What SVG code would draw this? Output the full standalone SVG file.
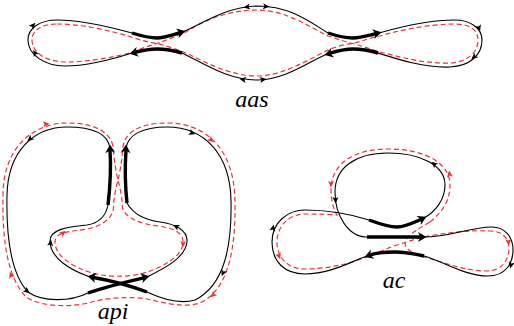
<svg xmlns="http://www.w3.org/2000/svg" xmlns:xlink="http://www.w3.org/1999/xlink" width="514" height="326" viewBox="0 0 514 326">
<style>
.b{fill:none;stroke:#000;stroke-width:1.1}
.t{fill:none;stroke:#000;stroke-width:3.4}
.r{fill:none;stroke:#e8343c;stroke-width:1.2;stroke-dasharray:5 3}
.ab{fill:#000}
.ar{fill:#e8343c}
.lbl{font-family:"Liberation Serif","DejaVu Serif",serif;font-style:italic;font-size:24px;fill:#000;text-anchor:middle}
</style>
<defs>
<path id="sa" d="M3.5,0 L-3,-3 L-1.5,0 L-3,3 Z"/>
<path id="ta" d="M1.5,0 L-7,-5 L-4.5,0 L-7,5 Z"/>
</defs>
<rect width="514" height="326" fill="#fff"/>

<g id="aas">
<path class="r" d="M57,24 C80,24 108,30 128,36 C140,40 148,42 157,43.5 C167,46 176,49 186,53 C205,62 230,76 257,76 C282,76 308,60 328,50 C338,46 345,44 353,43.5 C362,41 370,38 380,36 C400,30 430,24 455,24 C470,24 478,30 478,40 C478,52 468,62 450,63 C425,64 400,57 380,52 C370,49 362,46 353,43.5 C345,42 338,39 328,36 C308,26 285,10 257,10 C228,10 205,20 186,32 C176,36 167,40 157,43.5 C148,46 140,49 130,53 C110,58 85,62 67,62 C45,62 32,52 32,40 C32,30 42,24 57,24 Z"/>
<path class="b" d="M57,20 C80,20 110,27 132,33 C145,37 150,38 157,38 C165,38 172,35 183,32 C200,25 225,7 257,6 C290,6 310,22 328,33 C340,37 346,38 353,38 C361,38 370,35 379,33 C400,27 430,20 455,20 C470,20 482,28 482,40 C482,55 470,66 450,67 C425,68 400,60 378,53 C368,50 360,49 353,49 C345,49 337,51 327,54 C310,61 285,80 257,80 C228,80 205,64 182,53 C172,50 165,49 157,49 C148,49 140,51 132,53 C110,60 85,66 65,66 C45,66 28,55 28,40 C28,28 40,20 57,20 Z"/>
<path class="t" d="M132,33 C145,37 150,38 157,38 C165,38 172,35 181,32.5"/>
<path class="t" d="M182,53 C172,50 165,49 157,49 C148,49 140,51 134,52.5"/>
<path class="t" d="M328,33 C340,37 346,38 353,38 C361,38 370,35 377,33.5"/>
<path class="t" d="M378,53 C368,50 360,49 353,49 C345,49 337,51 329,53.5"/>
<use xlink:href="#ta" class="ab" transform="translate(184,31.5) rotate(-15)"/>
<use xlink:href="#ta" class="ab" transform="translate(131,53.5) rotate(166)"/>
<use xlink:href="#ta" class="ab" transform="translate(380,32.5) rotate(-13)"/>
<use xlink:href="#ta" class="ab" transform="translate(326,54.5) rotate(164)"/>
<use xlink:href="#sa" class="ab" transform="translate(33,25.5) rotate(-50)"/>
<use xlink:href="#sa" class="ab" transform="translate(35,53) rotate(-120)"/>
<use xlink:href="#sa" class="ab" transform="translate(247,7) rotate(172)"/>
<use xlink:href="#sa" class="ab" transform="translate(266,6.5) rotate(5)"/>
<use xlink:href="#sa" class="ab" transform="translate(243,79.5) rotate(188)"/>
<use xlink:href="#sa" class="ab" transform="translate(263,79.5) rotate(-8)"/>
<use xlink:href="#sa" class="ab" transform="translate(479,28) rotate(72)"/>
<use xlink:href="#sa" class="ab" transform="translate(474,57) rotate(140)"/>
<text class="lbl" x="252" y="107">aas</text>
</g>

<g id="api">
<path class="r" d="M113,146 C110,133 97,123 67,123 C33,123 3,148 3,195 C2,242 8,278 26,297 C42,308 75,307 92,302 C105,298 130,296 147,299 C165,303 183,308 200,303 C228,290 236,250 235,200 C234,150 207,123 167,123 C140,123 125,132 123,147 C122,160 120,172 118,180 C116,188 113.5,198 113.5,208 C112,220 100,226 88,229 C68,232 55,232 55,242 C55,255 70,266 92,273 C105,277 130,278 147,272 C165,266 182,256 183,243 C184,232 172,228 158,226 C140,224 126,218 122.5,208 C122.5,198 120,188 118,180 C116,172 114,160 113,146 Z"/>
<path class="b" d="M108,205 C110,188 111,165 110,148 C108,135 95,127 67,127 C35,127 8,150 7,195 C6,240 12,275 28,292 C42,302 70,302 88,293 C108,286 130,281 147,277 C165,268 185,258 187,242 C188,230 175,224 160,222 C145,220 133,214 127,203 C125,185 125,165 126,148 C128,135 142,127 167,127 C205,127 230,155 231,200 C232,245 225,285 195,300 C178,305 160,298 147,292 C128,285 108,280 90,277 C70,270 50,258 50,241 C50,230 65,227 87,225 C100,223 106,215 108,205 Z"/>
<path class="t" d="M108,205 C110,188 111,165 110,150"/>
<path class="t" d="M127,203 C125,185 125,165 126,150"/>
<path class="t" d="M88,293 C108,286 130,281 145,277.5"/>
<path class="t" d="M147,292 C128,285 108,280 92,277.3"/>
<use xlink:href="#ta" class="ab" transform="translate(110,146) rotate(-92)"/>
<use xlink:href="#ta" class="ab" transform="translate(126,146) rotate(-86)"/>
<use xlink:href="#ta" class="ab" transform="translate(148,276.5) rotate(-14)"/>
<use xlink:href="#ta" class="ab" transform="translate(89,276.5) rotate(-170)"/>
<use xlink:href="#sa" class="ab" transform="translate(30,139) rotate(140)"/>
<use xlink:href="#sa" class="ab" transform="translate(27,291) rotate(38)"/>
<use xlink:href="#sa" class="ab" transform="translate(192,133) rotate(22)"/>
<use xlink:href="#sa" class="ab" transform="translate(223,273) rotate(112)"/>
<use xlink:href="#sa" class="ab" transform="translate(50.5,243) rotate(-82)"/>
<use xlink:href="#sa" class="ab" transform="translate(176,226.5) rotate(-155)"/>
<use xlink:href="#sa" class="ar" transform="translate(46,124) rotate(-5)"/>
<use xlink:href="#sa" class="ar" transform="translate(211,140) rotate(42)"/>
<use xlink:href="#sa" class="ar" transform="translate(213,295) rotate(138)"/>
<use xlink:href="#sa" class="ar" transform="translate(11,275) rotate(-112)"/>
<use xlink:href="#sa" class="ar" transform="translate(63,233) rotate(-40)"/>
<use xlink:href="#sa" class="ar" transform="translate(183,244) rotate(95)"/>
<text class="lbl" x="113" y="319">api</text>
</g>

<g id="ac">
<path class="r" d="M430,222 C445,210 450,198 450,185 C450,163 425,149 388,149 C355,149 331,163 331,190 C331,200 333,208 337,215 C325,214 315,214 305,214 C290,214 277,225 277,242 C277,258 288,269 305,269 C322,269 335,266 345,264 C365,259 382,250 397,245 C410,241 420,237 435,235 C455,232 470,230 490,231 C503,231 509,239 509,248 C509,260 502,271 487,271 C465,271 445,263 428,258 C412,254 402,248 406,240 C410,233 420,228 430,222 Z"/>
<path class="b" d="M369,220 C380,224 390,227 397,227 C405,227 415,222 424,218 C435,212 445,200 445,185 C445,165 420,153 388,153 C355,153 335,168 335,192 C335,215 348,237 367,237 L424,237 C450,237 470,227 492,227 C505,227 513,237 513,250 C513,264 505,276 488,276 C465,276 445,262 424,256 C410,253 400,252 395,252 C385,252 375,253 367,256 C350,262 330,274 305,274 C285,274 272,262 272,242 C272,222 288,210 305,210 C330,210 350,214 369,220 Z"/>
<path class="t" d="M369,220 C380,224 390,227 397,227 C405,227 414,222.5 422,219"/>
<path class="t" d="M367,237 L422,237"/>
<path class="t" d="M424,256 C410,253 400,252 395,252 C385,252 375,253 369,255.5"/>
<use xlink:href="#ta" class="ab" transform="translate(425,217.5) rotate(-25)"/>
<use xlink:href="#ta" class="ab" transform="translate(425,237) rotate(0)"/>
<use xlink:href="#ta" class="ab" transform="translate(366,256.5) rotate(160)"/>
<use xlink:href="#sa" class="ab" transform="translate(434,164) rotate(-140)"/>
<use xlink:href="#sa" class="ab" transform="translate(335.5,200) rotate(88)"/>
<use xlink:href="#sa" class="ab" transform="translate(273,228) rotate(-78)"/>
<use xlink:href="#sa" class="ab" transform="translate(511,265) rotate(105)"/>
<use xlink:href="#sa" class="ar" transform="translate(331,184) rotate(92)"/>
<use xlink:href="#sa" class="ar" transform="translate(449.5,174) rotate(-98)"/>
<use xlink:href="#sa" class="ar" transform="translate(279,256) rotate(68)"/>
<use xlink:href="#sa" class="ar" transform="translate(508.5,242) rotate(84)"/>
<text class="lbl" x="394" y="288">ac</text>
</g>
</svg>
